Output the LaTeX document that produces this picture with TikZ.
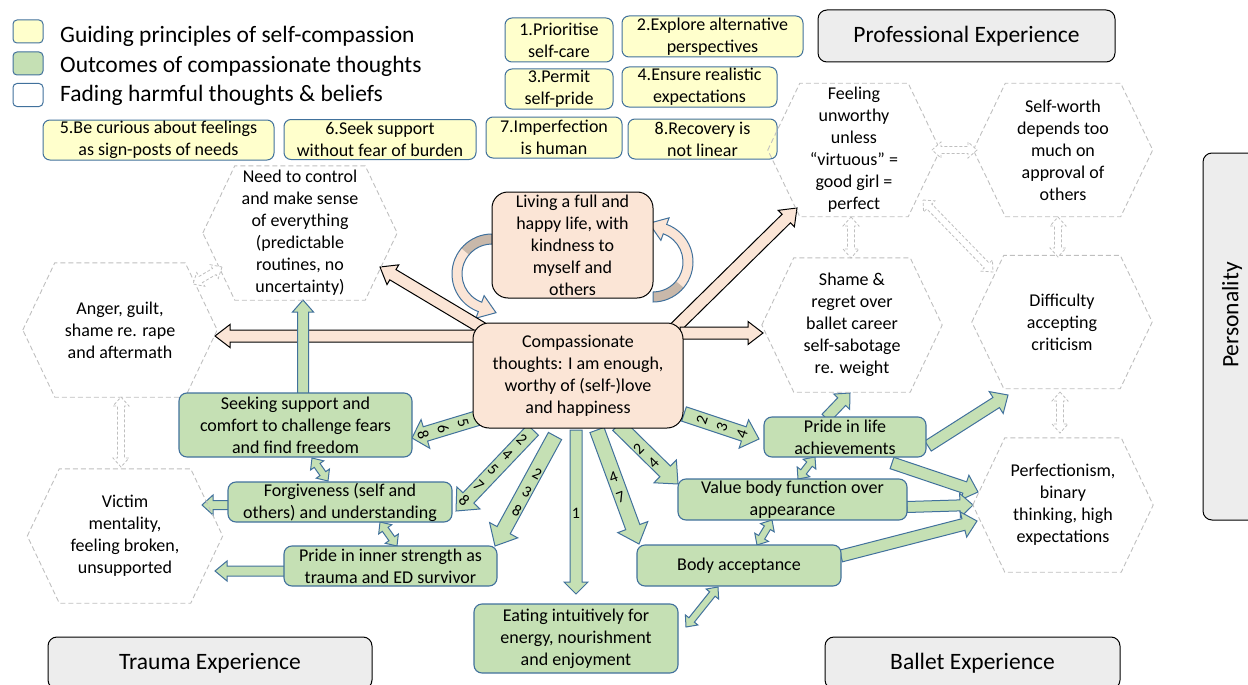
\documentclass[tikz,border=0pt]{standalone}
\usepackage{fontspec}
\setmainfont{Carlito}
\usetikzlibrary{calc,backgrounds}
\definecolor{peach}{HTML}{FBE5D6}
\definecolor{outgreen}{HTML}{C5E0B4}
\definecolor{prinyel}{HTML}{FFFFCC}
\definecolor{bblue}{HTML}{41719C}
\definecolor{expgray}{HTML}{EDEDED}
\definecolor{hexgray}{HTML}{BFBFBF}
\definecolor{backtan}{HTML}{C8B8AA}

\tikzset{
 txtbase/.style={align=center, inner sep=0pt, font=\fontsize{18}{22}\selectfont},
 prin/.style={txtbase, draw=bblue, fill=prinyel, line width=1pt, rounded corners=7pt},
 outc/.style={txtbase, draw=bblue, fill=outgreen, line width=1.1pt, rounded corners=8pt},
 compbox/.style={txtbase, draw=black, fill=peach, line width=1pt, rounded corners=16pt},
 exper/.style={txtbase, draw=black, fill=expgray, line width=1pt, rounded corners=9pt, font=\fontsize{23.5}{28}\selectfont},
 hexn/.style={txtbase},
 hexline/.style={draw=hexgray, line width=0.9pt, dash pattern=on 5pt off 3pt},
 parrow/.style={draw=black, fill=peach, line width=1pt},
 garrow/.style={draw=bblue, fill=outgreen, line width=1pt},
 harrow/.style={draw=hexgray, fill=white, line width=0.8pt, dash pattern=on 3pt off 2pt},
 numlab/.style={align=center, inner sep=0pt, font=\fontsize{16}{21}\selectfont},
 legbox/.style={draw=bblue, line width=1pt, rounded corners=4pt, minimum width=30pt, minimum height=23pt, inner sep=0pt},
 legtxt/.style={anchor=base west, inner sep=0pt, font=\fontsize{23.5}{28}\selectfont},
}

% single block arrow: style, from, to, half shaft, half head, head length (number, pt)
\newcommand{\blk}[6]{%
 \path[#1] let \p1=(#2), \p2=(#3), \n1={atan2(\y2-\y1,\x2-\x1)}, \n2={veclen(\x2-\x1,\y2-\y1)-#6} in
 ($(\p1)+(\n1+90:#4)$) -- ($(\p1)+(\n1:\n2)+(\n1+90:#4)$) -- ($(\p1)+(\n1:\n2)+(\n1+90:#5)$) -- (\p2) -- ($(\p1)+(\n1:\n2)+(\n1-90:#5)$) -- ($(\p1)+(\n1:\n2)+(\n1-90:#4)$) -- ($(\p1)+(\n1-90:#4)$) -- cycle;}
% double block arrow
\newcommand{\dblk}[6]{%
 \path[#1] let \p1=(#2), \p2=(#3), \n1={atan2(\y2-\y1,\x2-\x1)}, \n2={veclen(\x2-\x1,\y2-\y1)-#6} in
 (\p1) -- ($(\p1)+(\n1:#6pt)+(\n1+90:#5)$) -- ($(\p1)+(\n1:#6pt)+(\n1+90:#4)$) -- ($(\p1)+(\n1:\n2)+(\n1+90:#4)$) -- ($(\p1)+(\n1:\n2)+(\n1+90:#5)$) -- (\p2) -- ($(\p1)+(\n1:\n2)+(\n1-90:#5)$) -- ($(\p1)+(\n1:\n2)+(\n1-90:#4)$) -- ($(\p1)+(\n1:#6pt)+(\n1-90:#4)$) -- ($(\p1)+(\n1:#6pt)+(\n1-90:#5)$) -- cycle;}
% label along an arrow: name, from, to, position, text
\newcommand{\blklabel}[5]{%
 \path let \p1=(#2), \p2=(#3), \n1={atan2(\y2-\y1,\x2-\x1)} in node[numlab, rotate=\n1+90] (#1) at (#4) {#5};}
% hexagon node: name, position, width, height, text
\newcommand{\hexagonnode}[5]{%
 \node[hexn, minimum width=#3, minimum height=#4] (#1) at (#2) {#5};
 \draw[hexline] (#1.west) -- ($(#1.north west)+(32pt,0pt)$) -- ($(#1.north east)+(-32pt,0pt)$) -- (#1.east) -- ($(#1.south east)+(-32pt,0pt)$) -- ($(#1.south west)+(32pt,0pt)$) -- cycle;}

\begin{document}
\begin{tikzpicture}[x=1pt,y=-1pt]
\useasboundingbox (0,0) rectangle (1248,685);
\clip (0,0) rectangle (1248,685);

% legend
\node[legbox, fill=prinyel] (lg1) at (28,31.5) {};
\node[legbox, fill=outgreen] (lg2) at (28,63.5) {};
\node[legbox, fill=white] (lg3) at (28,95) {};
\node[legtxt] (lt1) at (60,43) {Guiding principles of self-compassion};
\node[legtxt] (lt2) at (60,72.5) {Outcomes of compassionate thoughts};
\node[legtxt] (lt3) at (60,101) {Fading harmful thoughts \& beliefs};

% principles
\node[prin, minimum width=108pt, minimum height=44pt] (p1) at (559,40) {1.Prioritise\\self-care};
\node[prin, minimum width=181pt, minimum height=41pt] (p2) at (712.5,36.5) {2.Explore alternative\\perspectives};
\node[prin, minimum width=108pt, minimum height=40pt] (p3) at (559,89) {3.Permit\\self-pride};
\node[prin, minimum width=155pt, minimum height=40pt] (p4) at (699.5,87) {4.Ensure realistic\\expectations};
\node[prin, minimum width=231pt, minimum height=40pt] (p5) at (158.5,140) {5.Be curious about feelings\\as sign-posts of needs};
\node[prin, minimum width=192pt, minimum height=40pt] (p6) at (380,139.5) {6.Seek support\\without fear of burden};
\node[prin, minimum width=136pt, minimum height=41pt] (p7) at (554,137.5) {7.Imperfection\\is human};
\node[prin, minimum width=149pt, minimum height=40pt] (p8) at (702.5,139) {8.Recovery is\\not linear};

% experience boxes
\node[exper, minimum width=297pt, minimum height=52pt] (prof) at (966.5,36) {Professional Experience};
\node[exper, minimum width=324pt, minimum height=52pt] (trauma) at (210,663) {Trauma Experience};
\node[exper, minimum width=295pt, minimum height=52pt] (ballet) at (972.5,663) {Ballet Experience};
\node[exper, minimum width=60pt, minimum height=367pt] (pers) at (1233,336.5) {};
\node[rotate=90, inner sep=0pt, font=\fontsize{23.5}{28}\selectfont] (perstxt) at (1232,315) {Personality};

% hexagons
\hexagonnode{hFeel}{854,150}{172pt}{133pt}{Feeling\\unworthy\\unless\\“virtuous” =\\good girl =\\perfect}
\hexagonnode{hSelf}{1063,150}{179pt}{133pt}{Self-worth\\depends too\\much on\\approval of\\others}
\hexagonnode{hShame}{852,325}{180pt}{134pt}{Shame \&\\regret over\\ballet career\\self-sabotage\\re. weight}
\hexagonnode{hDiff}{1062,322}{180pt}{133pt}{Difficulty\\accepting\\criticism}
\hexagonnode{hPerf}{1063,505}{180pt}{134pt}{Perfectionism,\\binary\\thinking, high\\expectations}
\hexagonnode{hNeed}{300,233}{194pt}{134pt}{Need to control\\and make sense\\of everything\\(predictable\\routines, no\\uncertainty)}
\hexagonnode{hAnger}{120,330}{194pt}{134pt}{Anger, guilt,\\shame re. rape\\and aftermath}
\hexagonnode{hVict}{125,536}{195pt}{134pt}{Victim\\mentality,\\feeling broken,\\unsupported}

% dashed links between hexagons
\coordinate (e1s) at (932,150); \coordinate (e1e) at (977,150);
\coordinate (e2s) at (851,217); \coordinate (e2e) at (851,258);
\coordinate (e3s) at (1058,217); \coordinate (e3e) at (1058,257);
\coordinate (e4s) at (923,200); \coordinate (e4e) at (993,272);
\coordinate (e5s) at (1060,392); \coordinate (e5e) at (1060,433);
\coordinate (e6s) at (222,267); \coordinate (e6e) at (193,284);
\coordinate (e7s) at (121,397); \coordinate (e7e) at (121,467);
\dblk{harrow}{e1s}{e1e}{3.5pt}{8pt}{9}
\dblk{harrow}{e2s}{e2e}{3.5pt}{8pt}{9}
\dblk{harrow}{e3s}{e3e}{3.5pt}{8pt}{9}
\dblk{harrow}{e4s}{e4e}{3.5pt}{8pt}{9}
\dblk{harrow}{e5s}{e5e}{3.5pt}{8pt}{9}
\dblk{harrow}{e6s}{e6e}{3.5pt}{8pt}{9}
\dblk{harrow}{e7s}{e7e}{3.5pt}{8pt}{9}

% central boxes
\node[compbox, minimum width=161pt, minimum height=106pt] (live) at (572.5,245) {Living a full and\\happy life, with\\kindness to\\myself and\\others};
\node[compbox, minimum width=210pt, minimum height=105pt] (cmp) at (578,375.5) {Compassionate\\thoughts: I am enough,\\worthy of (self-)love\\and happiness};

% outcome boxes
\node[outc, minimum width=233pt, minimum height=64pt] (seek) at (295.5,425) {Seeking support and\\comfort to challenge fears\\and find freedom};
\node[outc, minimum width=224pt, minimum height=40pt] (forg) at (340,502) {Forgiveness (self and\\others) and understanding};
\node[outc, minimum width=213pt, minimum height=40pt] (pin) at (390.5,566) {Pride in inner strength as\\trauma and ED survivor};
\node[outc, minimum width=204pt, minimum height=69pt] (eat) at (576,638.5) {Eating intuitively for\\energy, nourishment\\and enjoyment};
\node[outc, minimum width=204pt, minimum height=41pt] (body) at (739,565.5) {Body acceptance};
\node[outc, minimum width=229pt, minimum height=41pt] (value) at (792.5,499.5) {Value body function over\\appearance};
\node[outc, minimum width=162pt, minimum height=40pt] (plife) at (845,437) {Pride in life\\achievements};

\begin{scope}[on background layer]
% curved arrows around "living"
\coordinate (cl) at (492,274);
\fill[peach] ($(cl)+(90:40pt)$) arc[start angle=90, end angle=250, radius=40pt] -- ($(cl)+(250:47pt)$) -- ($(cl)+(250:35pt)+(340:17pt)$) -- ($(cl)+(250:23pt)$) -- ($(cl)+(250:30pt)$) arc[start angle=250, end angle=90, radius=30pt] -- cycle;
\fill[backtan] ($(cl)+(90:40pt)$) arc[start angle=90, end angle=140, radius=40pt] -- ($(cl)+(140:30pt)$) arc[start angle=140, end angle=90, radius=30pt] -- cycle;
\draw[bblue, line width=1pt] ($(cl)+(90:40pt)$) arc[start angle=90, end angle=250, radius=40pt] -- ($(cl)+(250:47pt)$) -- ($(cl)+(250:35pt)+(340:17pt)$) -- ($(cl)+(250:23pt)$) -- ($(cl)+(250:30pt)$) arc[start angle=250, end angle=90, radius=30pt] -- cycle;
\coordinate (cr) at (653,262);
\fill[peach] ($(cr)+(-90:40pt)$) arc[start angle=-90, end angle=70, radius=40pt] -- ($(cr)+(70:47pt)$) -- ($(cr)+(70:35pt)+(160:17pt)$) -- ($(cr)+(70:23pt)$) -- ($(cr)+(70:30pt)$) arc[start angle=70, end angle=-90, radius=30pt] -- cycle;
\fill[backtan] ($(cr)+(-90:40pt)$) arc[start angle=-90, end angle=-40, radius=40pt] -- ($(cr)+(-40:30pt)$) arc[start angle=-40, end angle=-90, radius=30pt] -- cycle;
\draw[bblue, line width=1pt] ($(cr)+(-90:40pt)$) arc[start angle=-90, end angle=70, radius=40pt] -- ($(cr)+(70:47pt)$) -- ($(cr)+(70:35pt)+(160:17pt)$) -- ($(cr)+(70:23pt)$) -- ($(cr)+(70:30pt)$) arc[start angle=70, end angle=-90, radius=30pt] -- cycle;

% peach arrows from compassionate thoughts
\coordinate (pa1s) at (482,328); \coordinate (pa1e) at (380,267);
\coordinate (pa2s) at (480,336); \coordinate (pa2e) at (215,336);
\coordinate (pa3s) at (675,328); \coordinate (pa3e) at (797,208);
\coordinate (pa4s) at (680,333); \coordinate (pa4e) at (763,333);
\blk{parrow}{pa1s}{pa1e}{6pt}{11.5pt}{15}
\blk{parrow}{pa2s}{pa2e}{6pt}{11.5pt}{15}
\blk{parrow}{pa3s}{pa3e}{6pt}{11.5pt}{15}
\blk{parrow}{pa4s}{pa4e}{6pt}{11.5pt}{15}

% labelled green arrows
\coordinate (a568s) at (478,418); \coordinate (a568e) at (412,438);
\coordinate (a24578s) at (533,430); \coordinate (a24578e) at (456,511);
\coordinate (a238s) at (555,436); \coordinate (a238e) at (495,546);
\coordinate (a1s) at (576,430); \coordinate (a1e) at (576,594);
\coordinate (a47s) at (597,430); \coordinate (a47e) at (639,544);
\coordinate (a24s) at (618,425); \coordinate (a24e) at (678,484);
\coordinate (a234s) at (684,414); \coordinate (a234e) at (759,439);
\blk{garrow}{a568s}{a568e}{7.5pt}{15pt}{14}
\blk{garrow}{a24578s}{a24578e}{7.5pt}{16pt}{18}
\blk{garrow}{a238s}{a238e}{7.5pt}{16pt}{18}
\blk{garrow}{a1s}{a1e}{6pt}{12pt}{12}
\blk{garrow}{a47s}{a47e}{7.5pt}{16pt}{18}
\blk{garrow}{a24s}{a24e}{7.5pt}{16pt}{18}
\blk{garrow}{a234s}{a234e}{7.5pt}{15pt}{16}

% unlabelled green arrows
\coordinate (g1s) at (303,394); \coordinate (g1e) at (303,300);
\coordinate (g2s) at (229,505); \coordinate (g2e) at (202,505);
\coordinate (g3s) at (285,571); \coordinate (g3e) at (215,571);
\coordinate (g4s) at (826,418); \coordinate (g4e) at (850,393);
\coordinate (g5s) at (928,446); \coordinate (g5e) at (1008,395);
\coordinate (g6s) at (892,463); \coordinate (g6e) at (978,492);
\coordinate (g7s) at (907,507); \coordinate (g7e) at (973,505);
\coordinate (g8s) at (841,556); \coordinate (g8e) at (977,521);
\blk{garrow}{g1s}{g1e}{5.5pt}{10.5pt}{12}
\blk{garrow}{g2s}{g2e}{4.5pt}{10pt}{11}
\blk{garrow}{g3s}{g3e}{5pt}{10pt}{12}
\blk{garrow}{g4s}{g4e}{5.5pt}{11pt}{12}
\blk{garrow}{g5s}{g5e}{6pt}{13pt}{14}
\blk{garrow}{g6s}{g6e}{6pt}{13pt}{14}
\blk{garrow}{g7s}{g7e}{5.5pt}{12pt}{13}
\blk{garrow}{g8s}{g8e}{6pt}{13pt}{14}

% double green arrows
\coordinate (d1s) at (312,458); \coordinate (d1e) at (328,481);
\coordinate (d2s) at (380,522); \coordinate (d2e) at (397,546);
\coordinate (d3s) at (718,587); \coordinate (d3e) at (686,627);
\coordinate (d4s) at (772,520); \coordinate (d4e) at (757,545);
\coordinate (d5s) at (815,457); \coordinate (d5e) at (798,479);
\dblk{garrow}{d1s}{d1e}{3.5pt}{8pt}{9}
\dblk{garrow}{d2s}{d2e}{3.5pt}{8pt}{9}
\dblk{garrow}{d3s}{d3e}{3.5pt}{8pt}{9}
\dblk{garrow}{d4s}{d4e}{3.5pt}{8pt}{9}
\dblk{garrow}{d5s}{d5e}{3.5pt}{8pt}{9}
\end{scope}

% labels on arrows
\blklabel{l568}{a568s}{a568e}{443,429}{5\\6\\8}
\blklabel{l24578}{a24578s}{a24578e}{493,470}{2\\4\\5\\7\\8}
\blklabel{l238}{a238s}{a238e}{527,492}{2\\3\\8}
\blklabel{l1}{a1s}{a1e}{576,513}{1}
\blklabel{l47}{a47s}{a47e}{617,487}{4\\7}
\blklabel{l24}{a24s}{a24e}{646,456}{2\\4}
\blklabel{l234}{a234s}{a234e}{722,427}{2\\3\\4}

\end{tikzpicture}
\end{document}
